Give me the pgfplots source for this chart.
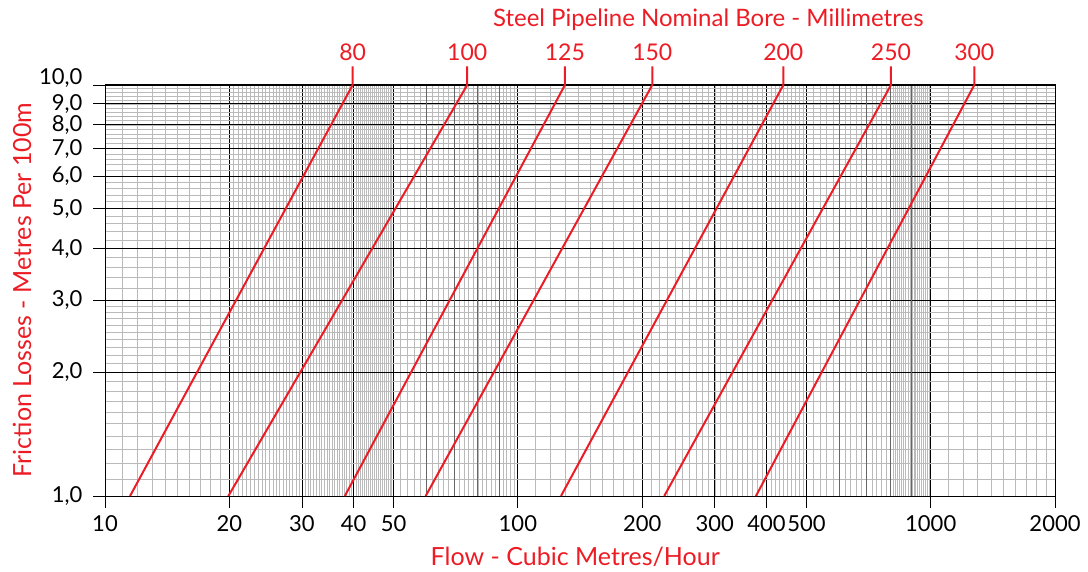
\documentclass[border=0pt]{standalone}
\usepackage{fontspec}
\setmainfont{Lato}
\usepackage{pgfplots}
\pgfplotsset{compat=1.18}
\definecolor{cred}{RGB}{237,28,36}
\begin{document}
\begin{tikzpicture}
\path[use as bounding box] (-105pt,-75pt) rectangle (983pt,496pt);
\begin{axis}[
  at={(0,0)}, anchor=south west,
  scale only axis, width=950pt, height=411pt,
  xmode=log, ymode=log,
  xmin=10, xmax=2000, ymin=1, ymax=10,
  xtick={10,20,30,40,50,100,200,300,400,500,1000,2000},
  xticklabels={10,20,30,40,50,100,200,300,400,500,1000,2000},
  ytick={1,2,3,4,5,6,7,8,9},
  yticklabels={{1,0},{2,0},{3,0},{4,0},{5,0},{6,0},{7,0},{8,0},{9,0}},
  minor xtick={11,12,...,19,20.5,21,...,49.5,52,54,...,98,110,120,...,190,210,220,...,490,520,540,...,780,810,820,...,990,1100,1200,...,1900},
  minor ytick={1.1,1.2,...,2.95,3.2,3.4,...,9.9},
  xtick pos=bottom, ytick pos=left,
  tick align=outside,
  major tick length=12pt,
  minor tick length=0pt,
  grid=both,
  major grid style={black, line width=0.8pt},
  minor grid style={black!27, line width=0.6pt},
  extra x ticks={60,70,80,90,600,700,800,900},
  extra x tick labels={},
  extra x tick style={major tick length=0pt, major grid style={black!60, line width=0.8pt}},
  extra y ticks={10},
  extra y tick labels={10{,}0},
  extra y tick style={yticklabel style={yshift=7pt}},
  axis line style={black, line width=1pt},
  tick style={black, line width=0.8pt},
  ticklabel style={font=\fontsize{22}{22}\selectfont},
  xticklabel style={yshift=-4pt},
  yticklabel style={xshift=-7pt},
  /pgf/number format/assume math mode=true,
  clip=false,
]
\addplot[cred, line width=2pt] coordinates {(11.5,1) (39.8,10) (39.8,11.1)} node[pos=1, anchor=south, text=cred, font=\fontsize{23}{23}\selectfont, inner sep=5pt] {80};
\addplot[cred, line width=2pt] coordinates {(19.9,1) (75.4,10) (75.4,11.1)} node[pos=1, anchor=south, text=cred, font=\fontsize{23}{23}\selectfont, inner sep=5pt] {100};
\addplot[cred, line width=2pt] coordinates {(38.1,1) (130.0,10) (130.0,11.1)} node[pos=1, anchor=south, text=cred, font=\fontsize{23}{23}\selectfont, inner sep=5pt] {125};
\addplot[cred, line width=2pt] coordinates {(59.8,1) (211.6,10) (211.6,11.1)} node[pos=1, anchor=south, text=cred, font=\fontsize{23}{23}\selectfont, inner sep=5pt] {150};
\addplot[cred, line width=2pt] coordinates {(127.2,1) (439.5,10) (439.5,11.1)} node[pos=1, anchor=south, text=cred, font=\fontsize{23}{23}\selectfont, inner sep=5pt] {200};
\addplot[cred, line width=2pt] coordinates {(226.2,1) (801,10) (801,11.1)} node[pos=1, anchor=south, text=cred, font=\fontsize{23}{23}\selectfont, inner sep=5pt] {250};
\addplot[cred, line width=2pt] coordinates {(377.3,1) (1275,10) (1275,11.1)} node[pos=1, anchor=south, text=cred, font=\fontsize{23}{23}\selectfont, inner sep=5pt] {300};
\node[text=cred, font=\fontsize{24}{24}\selectfont] at (rel axis cs:0.635,1.158) {Steel Pipeline Nominal Bore - Millimetres};
\node[text=cred, font=\fontsize{25}{25}\selectfont] at (rel axis cs:0.495,-0.148) {Flow - Cubic Metres/Hour};
\node[text=cred, font=\fontsize{25}{25}\selectfont, rotate=90] at (rel axis cs:-0.0874,0.501) {Friction Losses - Metres Per 100m};
\end{axis}
\end{tikzpicture}
\end{document}
